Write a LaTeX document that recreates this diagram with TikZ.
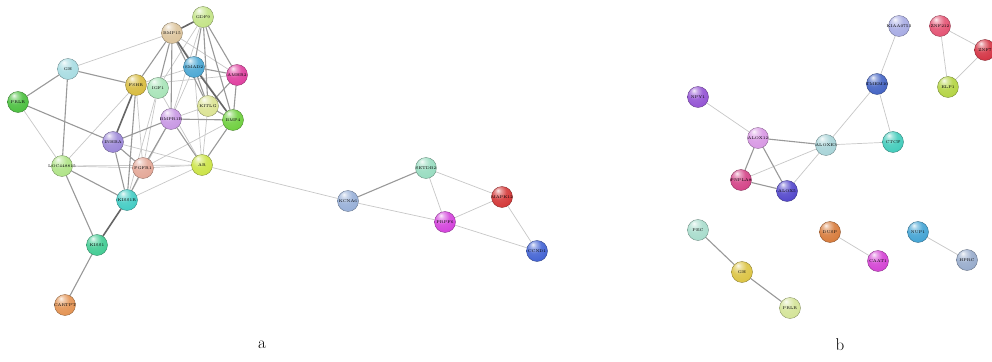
\documentclass[tikz,border=0pt]{standalone}
\usetikzlibrary{backgrounds}
\newcommand{\gl}[1]{\makebox[0pt]{#1}}
\colorlet{gc}{gray}
\pgfdeclareradialshading[gc]{gball}{\pgfqpoint{-10bp}{16bp}}{%
  color(0bp)=(gc!10!white); color(7bp)=(gc!50!white); color(18bp)=(gc!90!white);
  color(34bp)=(gc); color(46bp)=(gc!82!black); color(58bp)=(gc!68!black); color(75bp)=(gc!55!black)}
\tikzset{
  x=1pt,y=-1pt,
  gcol/.code={\colorlet{gc}{#1}},
  gene/.style={circle,minimum size=21pt,inner sep=0pt,gcol=#1,shading=gball,
    draw=#1!60!black,line width=0.35pt,font=\fontsize{4}{4}\selectfont,text=black},
  ethin/.style={draw=black!22,line width=0.7pt},
  emed/.style={draw=black!40,line width=1.1pt},
  ethick/.style={draw=black!60,line width=1.6pt},
  captext/.style={font=\fontsize{17}{17}\selectfont}
}
\definecolor{cGH}{HTML}{A8DCE2}
\definecolor{cPRLR}{HTML}{4CC040}
\definecolor{cFSHR}{HTML}{D8BC40}
\definecolor{cIGF}{HTML}{A8E4B8}
\definecolor{cBMP}{HTML}{DCC49C}
\definecolor{cGDF}{HTML}{C4E488}
\definecolor{cSMAD}{HTML}{4CA8D4}
\definecolor{cAMH}{HTML}{E040A0}
\definecolor{cKIT}{HTML}{DCE494}
\definecolor{cBMP4}{HTML}{70D040}
\definecolor{cBMPR}{HTML}{C898E4}
\definecolor{cINH}{HTML}{9C88D8}
\definecolor{cLOC}{HTML}{B0E488}
\definecolor{cFGF}{HTML}{E4A898}
\definecolor{cAR}{HTML}{CCE448}
\definecolor{cKR}{HTML}{44CCC4}
\definecolor{cKS}{HTML}{44CC94}
\definecolor{cCART}{HTML}{E49454}
\definecolor{cKCN}{HTML}{98B0D8}
\definecolor{cSET}{HTML}{98DCC0}
\definecolor{cMAP}{HTML}{D43838}
\definecolor{cPRP}{HTML}{D444DC}
\definecolor{cCCN}{HTML}{4464D4}
\definecolor{cNPY}{HTML}{9454D4}
\definecolor{cKIA}{HTML}{A8ACE4}
\definecolor{cZN}{HTML}{E45474}
\definecolor{cZR}{HTML}{D43444}
\definecolor{cELP}{HTML}{B4D444}
\definecolor{cNEM}{HTML}{4464C4}
\definecolor{cA12}{HTML}{D898E4}
\definecolor{cAE3}{HTML}{A8D4D8}
\definecolor{cCTC}{HTML}{44CCBC}
\definecolor{cPNP}{HTML}{D44488}
\definecolor{cA5}{HTML}{5448CC}
\definecolor{cPEC}{HTML}{A8DCCC}
\definecolor{cGH2}{HTML}{DCC444}
\definecolor{cPR2}{HTML}{D4E498}
\definecolor{cDUS}{HTML}{D87C3C}
\definecolor{cCAA}{HTML}{D444D4}
\definecolor{cNUP}{HTML}{44A4D4}
\definecolor{cHPR}{HTML}{98ACCC}
\begin{document}
\begin{tikzpicture}
\useasboundingbox (0,0) rectangle (992,361);
% ---- network a
\node[gene=cGH]   (GH)   at (68,69)   {\gl{GH}};
\node[gene=cPRLR] (PRLR) at (18,102)  {\gl{PRLR}};
\node[gene=cFSHR] (FSHR) at (136,85)  {\gl{FSHR}};
\node[gene=cIGF]  (IGF1) at (158,88)  {\gl{IGF1}};
\node[gene=cBMP]  (BMP15) at (172,33) {\gl{BMP15}};
\node[gene=cGDF]  (GDF9) at (203,17)  {\gl{GDF9}};
\node[gene=cSMAD] (SMAD2) at (194,67) {\gl{SMAD2}};
\node[gene=cAMH]  (AMHR2) at (237,75) {\gl{AMHR2}};
\node[gene=cKIT]  (KITLG) at (208,106) {\gl{KITLG}};
\node[gene=cBMP4] (BMP4) at (233,120) {\gl{BMP4}};
\node[gene=cBMPR] (BMPR) at (171,119) {\gl{BMPR1B}};
\node[gene=cINH]  (INHBA) at (113,142) {\gl{INHBA}};
\node[gene=cLOC]  (LOC)  at (62,166)  {\gl{LOC448815}};
\node[gene=cFGF]  (FGFR) at (143,168) {\gl{FGFR1}};
\node[gene=cAR]   (AR)   at (202,165) {\gl{AR}};
\node[gene=cKR]   (KR)   at (127,200) {\gl{KISS1R}};
\node[gene=cKS]   (KS)   at (97,245)  {\gl{KISS1}};
\node[gene=cCART] (CART) at (65,305)  {\gl{CARTPT}};
% ---- middle
\node[gene=cKCN] (KCN) at (348,201) {\gl{KCNA6}};
\node[gene=cSET] (SET) at (426,168) {\gl{SETDB2}};
\node[gene=cMAP] (MAP) at (502,197) {\gl{MAPK12}};
\node[gene=cPRP] (PRP) at (445,222) {\gl{PRPF6}};
\node[gene=cCCN] (CCN) at (537,251) {\gl{CCND1}};
% ---- network b
\node[gene=cNPY] (NPY) at (698,97)  {\gl{NPY1}};
\node[gene=cKIA] (KIA) at (899,26)  {\gl{KIAA0753}};
\node[gene=cZN]  (ZN)  at (940,26)  {\gl{ZNF212}};
\node[gene=cZR]  (ZR)  at (985,50)  {\gl{ZNF7}};
\node[gene=cELP] (ELP) at (948,87)  {\gl{ELP1}};
\node[gene=cNEM] (NEM) at (877,84)  {\gl{TMEM10}};
\node[gene=cA12] (A12) at (758,138) {\gl{ALOX12}};
\node[gene=cAE3] (AE3) at (826,145) {\gl{ALOXE3}};
\node[gene=cCTC] (CTC) at (893,142) {\gl{CTCF}};
\node[gene=cPNP] (PNP) at (741,180) {\gl{PNPLA8}};
\node[gene=cA5]  (A5)  at (787,191) {\gl{ALOX5}};
\node[gene=cPEC] (PEC) at (698,230) {\gl{PEC}};
\node[gene=cGH2] (GH2) at (742,272) {\gl{GH}};
\node[gene=cPR2] (PR2) at (790,308) {\gl{PRLR}};
\node[gene=cDUS] (DUS) at (830,232) {\gl{DUSP}};
\node[gene=cCAA] (CAA) at (878,261) {\gl{CAAT1}};
\node[gene=cNUP] (NUP) at (918,232) {\gl{NUP1}};
\node[gene=cHPR] (HPR) at (967,260) {\gl{HPRC}};
% captions
\node[captext] (capa) at (262,345) {a};
\node[captext] (capb) at (840,345) {b};
\begin{scope}[on background layer]
\foreach \a/\b in {GH/BMP15,PRLR/LOC,LOC/FSHR,LOC/FGFR,LOC/AR,FSHR/SMAD2,FSHR/AMHR2,
  IGF1/GDF9,IGF1/AR,IGF1/KR,BMP15/AMHR2,BMP15/BMP4,GDF9/BMPR,SMAD2/BMPR,SMAD2/AR,
  KITLG/AR,BMP4/FGFR,BMPR/KR,INHBA/AR,FGFR/AR,AR/KR,AR/KCN,FSHR/FGFR,KITLG/BMPR,IGF1/FGFR}
  \draw[ethin] (\a) -- (\b);
\foreach \a/\b in {GH/PRLR,GH/FSHR,GH/LOC,PRLR/INHBA,LOC/KR,LOC/KS,FSHR/IGF1,FSHR/BMP15,
  FSHR/KR,IGF1/BMP15,BMP15/KITLG,BMP15/BMPR,GDF9/SMAD2,GDF9/AMHR2,GDF9/KITLG,GDF9/BMP4,
  SMAD2/AMHR2,SMAD2/KITLG,AMHR2/BMP4,AMHR2/KITLG,KITLG/BMP4,BMP4/BMPR,BMP4/AR,
  BMPR/INHBA,BMPR/AR,BMPR/FGFR,INHBA/FGFR,INHBA/KR,FGFR/KR,KS/CART}
  \draw[emed] (\a) -- (\b);
\foreach \a/\b in {BMP15/GDF9,BMP15/SMAD2,SMAD2/BMP4,FSHR/INHBA,KR/KS}
  \draw[ethick] (\a) -- (\b);
\foreach \a/\b in {KCN/PRP,SET/PRP,SET/MAP,PRP/MAP,PRP/CCN,MAP/CCN}
  \draw[ethin] (\a) -- (\b);
\draw[emed] (KCN) -- (SET);
\foreach \a/\b in {NPY/A12,PNP/AE3,A5/AE3,AE3/NEM,AE3/CTC,NEM/CTC,NEM/KIA,
  ZN/ZR,ZN/ELP,ELP/ZR,DUS/CAA,NUP/HPR}
  \draw[ethin] (\a) -- (\b);
\foreach \a/\b in {A12/AE3,A12/PNP,A12/A5,PNP/A5,PEC/GH2,GH2/PR2}
  \draw[emed] (\a) -- (\b);
\end{scope}
\end{tikzpicture}
\end{document}
